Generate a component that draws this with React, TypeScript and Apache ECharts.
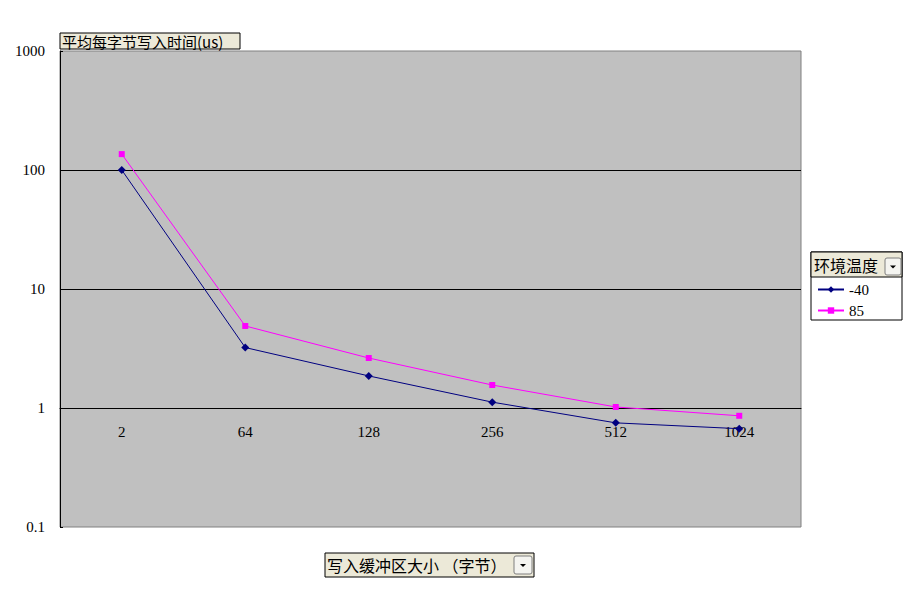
import { useEffect, useRef } from 'react';
import * as echarts from 'echarts';

// category axis: buffer size in bytes
const categories = ['2', '64', '128', '256', '512', '1024'];
// legend entries (ambient temperature)
const seriesNames = ['-40', '85'];
// average write time per byte (us)
const minus40 = [100, 3.22, 1.86, 1.12, 0.75, 0.67];
const plus85 = [136, 4.89, 2.63, 1.56, 1.02, 0.86];

const yTitle = '平均每字节写入时间(us)';
const xTitle = '写入缓冲区大小 （字节）';
const legendTitle = '环境温度';

const cjk = '"Noto Sans CJK SC", sans-serif';
const num = '"Liberation Serif", serif';

// small Excel-like dropdown button
const dropButton = (x: number, y: number, w: number, h: number) => ({
    type: 'group',
    children: [
        {
            type: 'rect',
            shape: { x, y, width: w, height: h, r: 2 },
            style: { fill: '#F4F4F0', stroke: '#7F7F7F', lineWidth: 1 },
        },
        {
            type: 'polygon',
            shape: {
                points: [
                    [x + w / 2 - 3, y + h / 2 - 1],
                    [x + w / 2 + 3, y + h / 2 - 1],
                    [x + w / 2, y + h / 2 + 2],
                ],
            },
            style: { fill: '#000' },
        },
    ],
});

export default function App() {
    const chartRef = useRef(null);

    useEffect(() => {
        const myChart = echarts.init(chartRef.current, null, { renderer: 'svg' });

        myChart.setOption({
            animation: false,
            backgroundColor: '#fff',
            grid: {
                left: 60,
                top: 51,
                width: 741,
                height: 476,
                show: true,
                backgroundColor: '#C0C0C0',
                borderColor: '#808080',
                borderWidth: 1,
            },
            xAxis: {
                type: 'category',
                data: categories,
                boundaryGap: true,
                // Excel crosses the category axis at y = 1
                offset: -119,
                axisLine: { onZero: false, lineStyle: { color: '#000', width: 1 } },
                axisTick: { inside: true, length: 5, lineStyle: { color: '#000' } },
                axisLabel: { color: '#000', fontFamily: num, fontSize: 15, margin: 16 },
            },
            yAxis: {
                type: 'log',
                logBase: 10,
                min: 0.1,
                max: 1000,
                axisLine: { show: true, lineStyle: { color: '#000', width: 1 } },
                axisTick: { show: true, inside: true, length: 3, lineStyle: { color: '#000' } },
                axisLabel: {
                    color: '#000',
                    fontFamily: num,
                    fontSize: 15,
                    margin: 15,
                    formatter: (v: number) => String(v),
                },
                splitLine: {
                    show: true,
                    showMinLine: false,
                    showMaxLine: false,
                    lineStyle: { color: '#000', width: 1 },
                },
            },
            legend: {
                orient: 'vertical',
                left: 817,
                top: 282,
                padding: 0,
                itemGap: 6,
                itemWidth: 26,
                itemHeight: 8,
                textStyle: { color: '#000', fontFamily: num, fontSize: 15 },
                data: seriesNames,
            },
            graphic: [
                // y axis title box
                {
                    type: 'rect',
                    shape: { x: 60, y: 33, width: 180, height: 16 },
                    style: { fill: '#ECE9D8', stroke: '#000', lineWidth: 1 },
                },
                {
                    type: 'text',
                    x: 62,
                    y: 41,
                    style: {
                        text: yTitle,
                        fill: '#000',
                        font: `15px ${cjk}`,
                        verticalAlign: 'middle',
                    },
                },
                // x axis title box
                {
                    type: 'rect',
                    shape: { x: 325, y: 553, width: 209, height: 24 },
                    style: { fill: '#ECE9D8', stroke: '#000', lineWidth: 1 },
                },
                {
                    type: 'text',
                    x: 327,
                    y: 565,
                    style: {
                        text: xTitle,
                        fill: '#000',
                        font: `16px ${cjk}`,
                        verticalAlign: 'middle',
                    },
                },
                dropButton(514, 556, 18, 18),
                // legend frame
                {
                    type: 'rect',
                    z: -1,
                    shape: { x: 811, y: 252, width: 91, height: 68 },
                    style: { fill: '#fff', stroke: '#000', lineWidth: 1 },
                },
                {
                    type: 'rect',
                    shape: { x: 811, y: 252, width: 91, height: 25 },
                    style: { fill: '#ECE9D8', stroke: '#000', lineWidth: 1 },
                },
                {
                    type: 'text',
                    x: 814,
                    y: 265,
                    style: {
                        text: legendTitle,
                        fill: '#000',
                        font: `16px ${cjk}`,
                        verticalAlign: 'middle',
                    },
                },
                dropButton(885, 258, 16, 17),
            ],
            series: [
                {
                    name: seriesNames[0],
                    type: 'line',
                    data: minus40,
                    symbol: 'diamond',
                    symbolSize: 8,
                    color: '#000080',
                    lineStyle: { width: 1, color: '#000080' },
                },
                {
                    name: seriesNames[1],
                    type: 'line',
                    data: plus85,
                    symbol: 'rect',
                    symbolSize: 6,
                    color: '#FF00FF',
                    lineStyle: { width: 1, color: '#FF00FF' },
                },
            ],
        });

        return () => {
            myChart.dispose();
        };
    }, []);

    return (
        <div
            ref={chartRef}
            style={{ position: 'fixed', left: 0, top: 0, width: '911px', height: '589px' }}
        />
    );
}
